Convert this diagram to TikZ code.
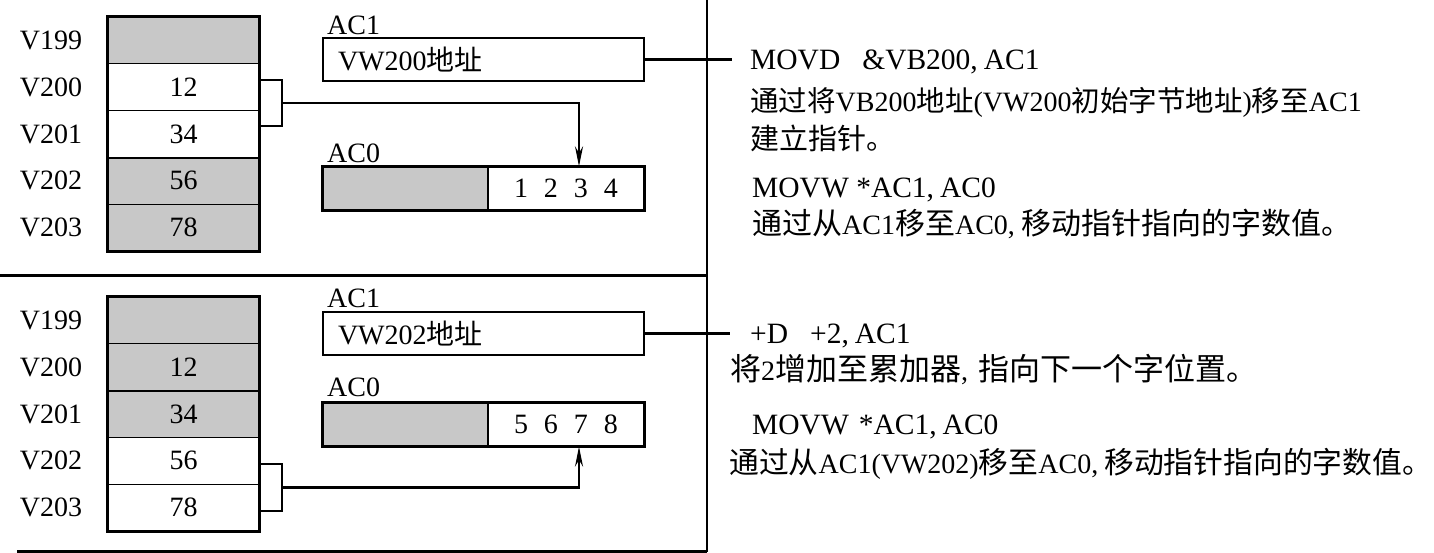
\documentclass[tikz,border=0pt]{standalone}
\usepackage{fontspec}
\setmainfont{Liberation Serif}
\newfontfamily\cjk{Noto Sans CJK SC}
\usetikzlibrary{arrows.meta,calc}
\definecolor{cellgray}{RGB}{200,200,200}
\newcommand{\cjksz}{28}
\newcommand{\zh}[1]{{\fontsize{\cjksz}{34}\cjk\selectfont #1}}
\newcommand{\jd}{\makebox[15pt][l]{\zh{。}}}
\newcommand{\cm}{,\hspace{6pt}}
\newcommand{\fs}{\fontsize{28}{34}\selectfont}
\newcommand{\fb}{\fontsize{29.5}{34}\selectfont}
\newcommand{\dg}{\hspace{16pt}}
\begin{document}
\begin{tikzpicture}[x=1pt,y=-1pt,
  cell/.style={draw, line width=1.2pt, minimum width=151pt, minimum height=46.8pt, inner sep=0pt, font=\fs},
  lbl/.style={inner sep=0pt, font=\fs},
  txt/.style={anchor=base west, inner sep=0pt, font=\fs},
  regbox/.style={draw, line width=2.2pt, minimum height=43pt, inner ysep=0pt, font=\fs},
  outer/.style={line width=2.4pt},
  conn/.style={line width=2.2pt},
  tip/.style={-{Stealth[length=20pt,width=8pt]}},
  frame/.style={line width=3pt},
  vframe/.style={line width=2.2pt}]
\useasboundingbox (0,0) rectangle (1434,553);

% ---------- frame ----------
\draw[frame] (0,275) -- (707,275);
\draw[frame] (17,551) -- (707,551);
\draw[vframe] (707,0) -- (707,552);

% ---------- top memory ----------
\node[cell, fill=cellgray] (a199) at (183.5,40.4) {};
\node[cell] (a200) at (183.5,87.2) {12};
\node[cell] (a201) at (183.5,134) {34};
\node[cell, fill=cellgray] (a202) at (183.5,180.8) {56};
\node[cell, fill=cellgray] (a203) at (183.5,227.6) {78};
\draw[outer] (a199.north west) rectangle (a203.south east);
\draw[outer] (a201.south west) -- (a201.south east);
\node[lbl] (la199) at (51,40.4) {V199};
\node[lbl] (la200) at (51,87.2) {V200};
\node[lbl] (la201) at (51,134) {V201};
\node[lbl] (la202) at (51,180.8) {V202};
\node[lbl] (la203) at (51,227.6) {V203};

% top registers
\node[lbl, anchor=west] (ta1) at (327,25) {AC1};
\node[regbox, text width=291pt, inner xsep=15pt, align=left] (acA) at (483.5,59.5) {VW200\zh{地址}};
\node[lbl, anchor=west] (ta0) at (327,153) {AC0};
\node[regbox, minimum width=165pt, fill=cellgray, line width=1.2pt] (bG) at (405.5,188.5) {};
\node[regbox, minimum width=156pt, line width=1.2pt] (bW) at (566,188.5) {1\dg 2\dg 3\dg 4};
\draw[line width=2.2pt] (bG.north west) rectangle (bW.south east);

% top bracket and arrow
\draw[conn] ([yshift=7pt]a200.east) -| ([xshift=22pt,yshift=8pt]a201.east) -- ([yshift=8pt]a201.east);
\coordinate (bm) at ($([xshift=22pt,yshift=7pt]a200.east)!0.5!([xshift=22pt,yshift=8pt]a201.east)$);
\draw[conn, tip] (bm) -| ([xshift=13pt]bW.north);

% top connector to text
\coordinate (e1) at (732,59.5);
\draw[conn] (acA.east) -- (e1);

% top text
\node[txt, font=\fb] (t1) at (750,70) {MOVD\hspace{22pt}\&VB200\cm AC1};
\node[txt, font={\fs\def\cjksz{28.5}}] (t2) at (750,112) {\zh{通过将}VB200\zh{地址}(VW200\zh{初始字节地址})\zh{移至}AC1};
\node[txt, font={\fs\def\cjksz{29}}] (t3) at (750,150) {\zh{建立指针}\jd};
\node[txt, font=\fb] (t4) at (752,198) {MOVW *AC1\cm AC0};
\node[txt, font={\fs\def\cjksz{30}}] (t5) at (752,235) {\zh{通过从}AC1\zh{移至}AC0\cm\zh{移动指针指向的字数值}\jd};

% ---------- bottom memory ----------
\node[cell, fill=cellgray] (b199) at (183.5,320.4) {};
\node[cell, fill=cellgray] (b200) at (183.5,367.2) {12};
\node[cell, fill=cellgray] (b201) at (183.5,414) {34};
\node[cell] (b202) at (183.5,460.8) {56};
\node[cell] (b203) at (183.5,507.6) {78};
\draw[outer] (b199.north west) rectangle (b203.south east);
\draw[outer] (b200.south west) -- (b200.south east);
\node[lbl] (lb199) at (51,320.4) {V199};
\node[lbl] (lb200) at (51,367.2) {V200};
\node[lbl] (lb201) at (51,414) {V201};
\node[lbl] (lb202) at (51,460.8) {V202};
\node[lbl] (lb203) at (51,507.6) {V203};

% bottom registers
\node[lbl, anchor=west] (ua1) at (327,298) {AC1};
\node[regbox, text width=291pt, inner xsep=15pt, align=left] (acB) at (483.5,333.5) {VW202\zh{地址}};
\node[lbl, anchor=west] (ua0) at (327,387) {AC0};
\node[regbox, minimum width=165pt, fill=cellgray, line width=1.2pt] (cG) at (405.5,424.5) {};
\node[regbox, minimum width=156pt, line width=1.2pt] (cW) at (566,424.5) {5\dg 6\dg 7\dg 8};
\draw[line width=2.2pt] (cG.north west) rectangle (cW.south east);

% bottom bracket and arrow
\draw[conn] ([yshift=-3pt]b202.east) -| ([xshift=22pt,yshift=-3.4pt]b203.east) -- ([yshift=-3.4pt]b203.east);
\coordinate (cm) at ($([xshift=22pt,yshift=-3pt]b202.east)!0.5!([xshift=22pt,yshift=-3.4pt]b203.east)$);
\draw[conn, tip] (cm) -| ([xshift=13pt]cW.south);

% bottom connector to text
\coordinate (e2) at (730,333.5);
\draw[conn] (acB.east) -- (e2);

% bottom text
\node[txt, font=\fb] (s1) at (750,343) {+D\hspace{22pt}+2\cm AC1};
\node[txt, font={\fs\def\cjksz{31}}] (s2) at (730,380) {\zh{将}2\zh{增加至累加器}\cm\hspace{4pt}\zh{指向下一个字位置}\jd};
\node[txt, font=\fb] (s3) at (752,434) {MOVW\hspace{10pt}*AC1\cm AC0};
\node[txt, font={\fs\def\cjksz{29.8}}] (s4) at (729,473) {\zh{通过从}AC1(VW202)\zh{移至}AC0\cm\zh{移动指针指向的字数值}\jd};
\end{tikzpicture}
\end{document}
